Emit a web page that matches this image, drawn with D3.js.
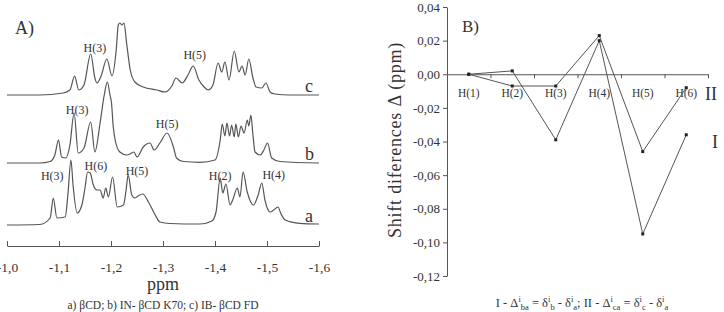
<!DOCTYPE html>
<html>
<head>
<meta charset="utf-8">
<script src="https://cdn.jsdelivr.net/npm/d3@7/dist/d3.min.js"></script>
<style>
  body { margin: 0; background: #fff; }
  svg { display: block; }
  text { font-family: "Liberation Serif", "DejaVu Serif", serif; }
</style>
</head>
<body>
<svg id="chart" width="724" height="312"></svg>
<script>
// spectra: [ppm, relative intensity]
var traceA = [[-1.000,0],[-1.063,0.5],[-1.083,7],[-1.089,27],[-1.096,7],[-1.112,8],[-1.117,30],[-1.123,65],[-1.127,40],
  [-1.135,12],[-1.144,20],[-1.150,37],[-1.155,53],[-1.160,52],[-1.166,40],[-1.173,35],[-1.179,35],[-1.185,27],[-1.190,37],
  [-1.195,28],[-1.203,48],[-1.212,18],[-1.224,20],[-1.229,35],[-1.233,50],[-1.240,30],[-1.246,27],[-1.252,29],[-1.261,31],
  [-1.272,23],[-1.285,10],[-1.294,3],[-1.313,1.5],[-1.371,1],[-1.394,4],[-1.402,13],[-1.410,47],[-1.415,32],[-1.421,41],
  [-1.429,20],[-1.434,25],[-1.443,37],[-1.448,28],[-1.454,53],[-1.462,33],[-1.474,20],[-1.483,30],[-1.490,42],[-1.496,25],
  [-1.506,13],[-1.513,15],[-1.521,18],[-1.527,11],[-1.535,5],[-1.563,1.7],[-1.600,1]];
var traceB = [[-1.000,0],[-1.063,0],[-1.083,1.5],[-1.092,8],[-1.099,23],[-1.105,6],[-1.113,5],[-1.121,18],[-1.129,50],
  [-1.137,10],[-1.148,15],[-1.161,41],[-1.169,11],[-1.179,40],[-1.187,68],[-1.193,81],[-1.198,68],[-1.201,60],[-1.204,38],
  [-1.208,23],[-1.217,11],[-1.230,8],[-1.240,10],[-1.244,11],[-1.250,6],[-1.262,16],[-1.275,20],[-1.283,13],[-1.294,20],
  [-1.308,30],[-1.320,16],[-1.326,5],[-1.339,1.5],[-1.371,0.7],[-1.400,3],[-1.410,23],[-1.414,39],[-1.419,27],[-1.423,40],
  [-1.428,27],[-1.432,38],[-1.437,26],[-1.440,39],[-1.445,26],[-1.450,37],[-1.456,30],[-1.462,43],[-1.465,37],[-1.469,48],
  [-1.473,28],[-1.477,11],[-1.487,8],[-1.494,13],[-1.501,20],[-1.509,5],[-1.525,1.5],[-1.600,0]];
var traceC = [[-1.000,0],[-1.063,0],[-1.108,2],[-1.121,5],[-1.130,19],[-1.138,5],[-1.148,10],[-1.161,41],[-1.169,17],
  [-1.173,12],[-1.181,19],[-1.192,36],[-1.202,19],[-1.210,45],[-1.214,70],[-1.217,72],[-1.221,70],[-1.225,72],[-1.230,52],
  [-1.237,25],[-1.246,13],[-1.262,8],[-1.288,5],[-1.304,3],[-1.317,9],[-1.325,17],[-1.337,12],[-1.348,20],[-1.358,29],
  [-1.369,15],[-1.379,8],[-1.387,5],[-1.396,10],[-1.406,32],[-1.413,23],[-1.419,33],[-1.427,15],[-1.437,44],[-1.446,23],
  [-1.452,29],[-1.458,20],[-1.465,36],[-1.473,17],[-1.479,8],[-1.490,7],[-1.498,12],[-1.506,3],[-1.515,1],[-1.544,0],[-1.600,0]];
var ppmTicks = [-1.0, -1.1, -1.2, -1.3, -1.4, -1.5, -1.6];

// peak labels: [trace, text, ppm, height above baseline]
var peakNames = [
  ['c', 'H(3)', -1.169, 43], ['c', 'H(5)', -1.361, 36],
  ['b', 'H(3)', -1.135, 49], ['b', 'H(5)', -1.308, 35],
  ['a', 'H(3)', -1.087, 45], ['a', 'H(6)', -1.171, 55], ['a', 'H(5)', -1.250, 50],
  ['a', 'H(2)', -1.410, 45], ['a', 'H(4)', -1.513, 46]
];

var protons = ['H(1)', 'H(2)', 'H(3)', 'H(4)', 'H(5)', 'H(6)'];
var shiftI = [0, 0.002, -0.039, 0.020, -0.095, -0.036];
var shiftII = [0, -0.007, -0.007, 0.023, -0.046, -0.008];
var shiftTicks = [0.04, 0.02, 0, -0.02, -0.04, -0.06, -0.08, -0.10, -0.12];

var ink = '#333', lineCol = '#555', serif = '"Liberation Serif", serif';

function comma(v, d) {
  return (v < 0 ? '-' : '') + Math.abs(v).toFixed(d).replace('.', ',');
}

var svg = d3.select('#chart');

// ---------- A) spectra ----------
var x = d3.scaleLinear().domain([-1.0, -1.6]).range([7, 319]);
var inten = d3.scaleLinear().domain([0, 100]).range([0, -100]);
var baselines = { a: 225, b: 163, c: 95 };
var traces = { a: traceA, b: traceB, c: traceC };

var line = d3.line().x(d => x(d[0])).y(d => inten(d[1])).curve(d3.curveMonotoneX);

['c', 'b', 'a'].forEach(function(k) {
  var g = svg.append('g').attr('transform', `translate(0,${baselines[k]})`);
  g.append('path').datum(traces[k])
    .attr('d', line).attr('fill', 'none')
    .attr('stroke', lineCol).attr('stroke-width', 1.2);
  g.append('text').attr('x', 305).attr('y', -3)
    .attr('font-size', 18).attr('fill', ink).text(k);
});

svg.append('g').selectAll('text').data(peakNames).enter().append('text')
  .attr('x', d => x(d[2]))
  .attr('y', d => baselines[d[0]] + inten(d[3]))
  .attr('text-anchor', 'middle').attr('font-size', 12).attr('fill', ink)
  .text(d => d[1]);

var axA = svg.append('g').attr('transform', 'translate(0,246)')
  .call(d3.axisBottom(x).tickValues(ppmTicks).tickFormat(d => comma(d, 1)).tickSize(5).tickSizeOuter(0).tickPadding(11));
axA.attr('font-family', serif);
axA.select('.domain').attr('stroke', lineCol);
axA.selectAll('.tick line').attr('stroke', lineCol).attr('transform', 'translate(0,-5)');
axA.selectAll('.tick text').attr('font-size', 13.5).attr('fill', ink);

svg.append('text').attr('x', 163).attr('y', 290).attr('text-anchor', 'middle')
  .attr('font-size', 18).attr('fill', ink).text('ppm');
svg.append('text').attr('x', 163).attr('y', 309).attr('text-anchor', 'middle')
  .attr('font-size', 11.5).attr('fill', ink).text('a) βCD; b) IN- βCD K70; c) IB- βCD FD');
svg.append('text').attr('x', 15).attr('y', 34).attr('font-size', 18).attr('fill', ink).text('A)');

// ---------- B) shift differences ----------
var y = d3.scaleLinear().domain([-0.12, 0.04]).range([276, 7]);
var xb = d3.scaleBand().domain(protons).range([447, 708]).padding(0);
var edges = d3.scaleLinear().domain([0, protons.length]).range([447, 708]);

var axY = svg.append('g').attr('transform', 'translate(447,0)')
  .call(d3.axisLeft(y).tickValues(shiftTicks).tickFormat(d => comma(d, 2)).tickSize(4).tickSizeOuter(0).tickPadding(3));
axY.attr('font-family', serif);
axY.select('.domain').attr('stroke', lineCol);
axY.selectAll('.tick line').attr('stroke', lineCol);
axY.selectAll('.tick text').attr('font-size', 13).attr('fill', ink);

var axX = svg.append('g').attr('transform', `translate(0,${y(0)})`)
  .call(d3.axisBottom(edges).tickValues(d3.range(1, protons.length + 1)).tickFormat('').tickSize(4).tickSizeOuter(0));
axX.select('.domain').attr('stroke', lineCol);
axX.selectAll('.tick line').attr('stroke', lineCol);

svg.append('g').selectAll('text').data(protons).enter().append('text')
  .attr('x', d => xb(d) + xb.bandwidth() / 2).attr('y', y(0) + 23)
  .attr('text-anchor', 'middle').attr('font-size', 11.5).attr('fill', ink)
  .text(d => d);

var sline = d3.line().x((d, i) => xb(protons[i]) + xb.bandwidth() / 2).y(d => y(d));
[shiftI, shiftII].forEach(function(s) {
  svg.append('path').datum(s).attr('d', sline)
    .attr('fill', 'none').attr('stroke', lineCol).attr('stroke-width', 1);
  svg.append('g').selectAll('rect').data(s).enter().append('rect')
    .attr('x', (d, i) => xb(protons[i]) + xb.bandwidth() / 2 - 1.5)
    .attr('y', d => y(d) - 1.5)
    .attr('width', 3).attr('height', 3).attr('fill', '#222');
});

svg.append('text').attr('x', 705).attr('y', 100).attr('font-size', 18).attr('fill', ink).text('II');
svg.append('text').attr('x', 712).attr('y', 148).attr('font-size', 18).attr('fill', ink).text('I');
svg.append('text').attr('x', 462).attr('y', 32).attr('font-size', 17).attr('fill', ink).text('B)');

svg.append('text')
  .attr('transform', 'translate(401,140) rotate(-90)')
  .attr('text-anchor', 'middle').attr('font-size', 18).attr('fill', ink)
  .attr('letter-spacing', 0.8)
  .text('Shift diferences Δ (ppm)');

// formula under panel B
var parts = [['I - Δ', 0], ['i', 1], ['ba', 2], [' = δ', 0], ['i', 1], ['b', 2], [' - δ', 0], ['i', 1], ['a', 2],
  ['; II - Δ', 0], ['i', 1], ['ca', 2], [' = δ', 0], ['i', 1], ['c', 2], [' - δ', 0], ['i', 1], ['a', 2]];
var f = svg.append('text').attr('x', 582).attr('y', 307).attr('text-anchor', 'middle')
  .attr('font-size', 12.5).attr('fill', ink);
var level = 0;
parts.forEach(function(p) {
  var target = p[1] === 1 ? -5 : p[1] === 2 ? 3 : 0;
  f.append('tspan').attr('dy', target - level)
    .attr('font-size', p[1] ? 8.5 : 12.5).text(p[0]);
  level = target;
});
</script>
</body>
</html>
